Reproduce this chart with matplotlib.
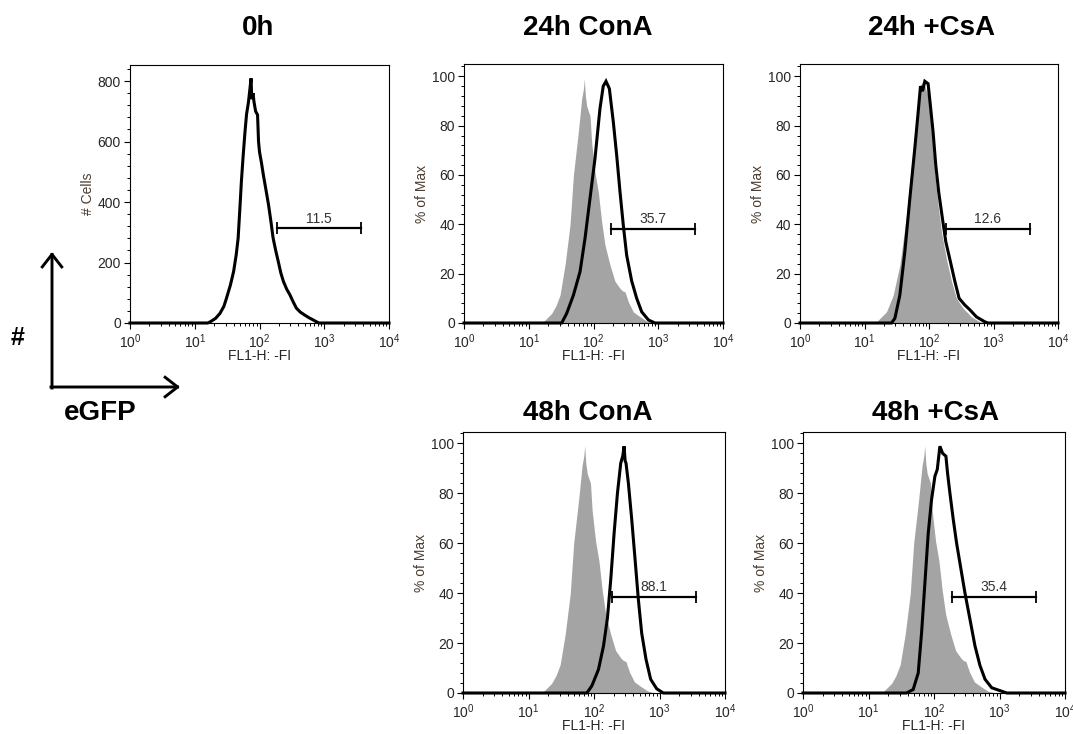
import numpy as np
import matplotlib
matplotlib.use("Agg")
import matplotlib.pyplot as plt
from matplotlib.ticker import MultipleLocator, LogLocator, NullFormatter

plt.rcParams['font.family'] = ['Liberation Sans', 'DejaVu Sans']
plt.rcParams['mathtext.default'] = 'regular'

# ---- histogram data: log10(FL1-H) channel positions and heights ----
# 0h, absolute cell counts
h0_log = [0.0, 1.20, 1.24, 1.32, 1.39, 1.45, 1.49, 1.55, 1.60, 1.64, 1.67, 1.70,
          1.72, 1.75, 1.776, 1.80, 1.83, 1.85, 1.87, 1.88, 1.90, 1.915, 1.94,
          1.97, 1.985, 2.00, 2.03, 2.06, 2.10, 2.14, 2.18, 2.21, 2.25, 2.29,
          2.33, 2.37, 2.42, 2.47, 2.52, 2.57, 2.63, 2.70, 2.76, 2.83, 2.88,
          2.92, 4.0]
h0_cells = [0, 0, 4, 15, 32, 55, 82, 125, 170, 225, 280, 390, 467, 560, 632,
            690, 731, 770, 809, 740, 760, 731, 700, 688, 600, 566, 530, 489,
            440, 390, 330, 281, 240, 203, 165, 137, 112, 93, 70, 49, 36, 26,
            18, 10, 4, 0, 0]

# unstimulated control (grey), % of max
ctrl_log = [1.225, 1.354, 1.42, 1.483, 1.56, 1.637, 1.69, 1.766, 1.818, 1.845,
            1.858, 1.875, 1.895, 1.92, 1.946, 1.972, 2.023, 2.075, 2.126, 2.178,
            2.255, 2.33, 2.41, 2.45, 2.487, 2.54, 2.615, 2.72, 2.82, 2.93]
ctrl_pct = [0.5, 3.9, 7.0, 11.3, 23.5, 39.7, 60, 77.5, 91, 95, 99, 92, 88, 86,
            84, 73, 61, 53, 41, 31.5, 23.5, 17, 14, 13, 12.6, 8.5, 4.5, 2.5,
            0.8, 0]

# control paired with the 24h +CsA sample (grey), % of max
ctrl24_log = [1.187, 1.34, 1.445, 1.548, 1.651, 1.729, 1.806, 1.858, 1.91,
              1.986, 2.038, 2.09, 2.141, 2.193, 2.27, 2.348, 2.425, 2.529,
              2.658, 2.787, 2.89]
ctrl24_pct = [0.5, 4.5, 11.3, 23.5, 43.7, 64, 84, 96, 98, 92, 77.5, 61, 47.8,
              37, 26, 17, 10, 6, 2.5, 0.5, 0]

# 24h ConA
cona24_log = [0.0, 1.509, 1.586, 1.69, 1.792, 1.869, 1.946, 2.023, 2.10, 2.15,
              2.193, 2.245, 2.306, 2.358, 2.41, 2.46, 2.512, 2.59, 2.667,
              2.745, 2.85, 2.95, 4.0]
cona24_pct = [0, 0, 3.9, 11.3, 20.8, 34.3, 50.5, 66.7, 86.9, 96, 98, 95, 81.5,
              68, 53, 39.7, 27.5, 17, 10, 4.5, 1.2, 0, 0]

# 24h +CsA
csa24_log = [0.0, 1.419, 1.471, 1.548, 1.625, 1.703, 1.78, 1.832, 1.868, 1.90,
             1.935, 1.986, 2.022, 2.063, 2.105, 2.151, 2.208, 2.26, 2.322,
             2.40, 2.467, 2.555, 2.632, 2.735, 2.864, 2.915, 4.0]
csa24_pct = [0, 0, 1.9, 11.3, 28.8, 50.5, 70.8, 85.5, 96, 94, 98, 97, 88,
             77.5, 64, 53, 42.4, 33, 26, 17, 10, 7.3, 5.4, 2.5, 0.5, 0, 0]

# 48h ConA
cona48_log = [0.0, 1.89, 1.966, 2.068, 2.145, 2.205, 2.256, 2.307, 2.358,
              2.408, 2.44, 2.459, 2.475, 2.489, 2.525, 2.576, 2.627, 2.677,
              2.728, 2.794, 2.865, 2.957, 3.058, 4.0]
cona48_pct = [0, 0, 2.8, 9.4, 18.8, 30, 45.5, 64, 80, 92, 95, 98.8, 93, 92, 84,
              69.5, 53.5, 37.5, 24, 13.5, 5.5, 1.7, 0, 0]

# 48h +CsA
csa48_log = [0.0, 1.58, 1.682, 1.759, 1.81, 1.861, 1.912, 1.963, 2.014, 2.05,
             2.09, 2.131, 2.182, 2.207, 2.243, 2.294, 2.345, 2.396, 2.473,
             2.549, 2.626, 2.702, 2.779, 2.881, 2.98, 3.11, 4.0]
csa48_pct = [0, 0, 1.4, 8, 24, 44, 64, 77.5, 86.8, 89.5, 98.8, 96, 94.8, 88,
             80, 69.5, 60, 52, 40, 29.5, 18.8, 11, 5.5, 2.1, 1.2, 0, 0]

# marker gate (FL1-H range) and % positive cells in each sample
gate_range = [186, 3630]
titles = ["0h", "24h ConA", "24h +CsA", "48h ConA", "48h +CsA"]
gate_values = [11.5, 35.7, 12.6, 88.1, 35.4]

W, H = 1073, 734
fig = plt.figure(figsize=(W / 100, H / 100), dpi=100)


def rect(left, top, right, bottom):
    return [left / W, 1 - bottom / H, (right - left) / W, (bottom - top) / H]


panels = [
    dict(rect=rect(130, 65, 389, 323), fill=None,
         line=(h0_log, h0_cells), ylim=853, major=200, minor=40,
         ylabel="# Cells", gate_y=313, title_xy=(258, 35)),
    dict(rect=rect(464, 64, 723, 323), fill=(ctrl_log, ctrl_pct),
         line=(cona24_log, cona24_pct), ylim=105, major=20, minor=4,
         ylabel="% of Max", gate_y=38, title_xy=(588, 35)),
    dict(rect=rect(800, 64, 1058, 323), fill=(ctrl24_log, ctrl24_pct),
         line=(csa24_log, csa24_pct), ylim=105, major=20, minor=4,
         ylabel="% of Max", gate_y=38, title_xy=(931, 35)),
    dict(rect=rect(463, 432, 725, 693), fill=(ctrl_log, ctrl_pct),
         line=(cona48_log, cona48_pct), ylim=104.5, major=20, minor=4,
         ylabel="% of Max", gate_y=38.4, title_xy=(588, 420)),
    dict(rect=rect(803, 432, 1065, 693), fill=(ctrl_log, ctrl_pct),
         line=(csa48_log, csa48_pct), ylim=104.5, major=20, minor=4,
         ylabel="% of Max", gate_y=38.4, title_xy=(935, 420)),
]

tick_color = "#262626"
for p, title, gv in zip(panels, titles, gate_values):
    ax = fig.add_axes(p["rect"])
    ax.set_xscale("log")
    ax.set_xlim(1, 1e4)
    ax.set_ylim(0, p["ylim"])

    if p["fill"] is not None:
        fx = 10 ** np.asarray(p["fill"][0])
        ax.fill_between(fx, p["fill"][1], 0, color="#a4a4a4", lw=0, zorder=1)
    lx = 10 ** np.asarray(p["line"][0])
    ax.plot(lx, p["line"][1], color="black", lw=2.2, zorder=3,
            clip_on=False, solid_joinstyle="miter")

    # gate bar with end caps and the % positive label
    ax.plot(gate_range, [p["gate_y"]] * 2, color="black", lw=1.6, zorder=4)
    ax.plot(gate_range, [p["gate_y"]] * 2, ls="none", marker="|",
            ms=9, mew=1.3, color="black", zorder=4)
    gx = np.sqrt(gate_range[0] * gate_range[1])
    ax.annotate(f"{gv}", (gx, p["gate_y"]), xytext=(0, 2),
                textcoords="offset points", ha="center", va="bottom",
                fontsize=10, color="#333333")

    ax.yaxis.set_major_locator(MultipleLocator(p["major"]))
    ax.yaxis.set_minor_locator(MultipleLocator(p["minor"]))
    ax.xaxis.set_major_locator(LogLocator(base=10, numticks=10))
    ax.xaxis.set_minor_locator(LogLocator(base=10, subs=np.arange(2, 10),
                                          numticks=50))
    ax.xaxis.set_minor_formatter(NullFormatter())
    ax.tick_params(which="major", direction="out", length=4, width=0.8,
                   labelsize=10, labelcolor=tick_color, pad=2.5)
    ax.tick_params(which="minor", direction="out", length=2.2, width=0.7)
    for s in ax.spines.values():
        s.set_linewidth(0.8)
        s.set_color("black")

    ax.set_ylabel(p["ylabel"], fontsize=10, color="#4a3c30", va="center")
    ax.yaxis.set_label_coords(-42 / (p["rect"][2] * W), 0.5)
    ax.set_xlabel("FL1-H: -FI", fontsize=10, color=tick_color, va="center")
    ax.xaxis.set_label_coords(0.5, -33 / (p["rect"][3] * H))

    tx, ty = p["title_xy"]
    fig.text(tx / W, 1 - ty / H, title, ha="center", va="baseline",
             fontsize=20, fontweight="bold")

# axis-direction key on the left
corner = (52 / W, 1 - 387 / H)
arrow_kw = dict(arrowstyle="->,head_length=0.45,head_width=0.35",
                lw=2.1, color="black", mutation_scale=20,
                shrinkA=0, shrinkB=0, capstyle="projecting")
fig.add_artist(matplotlib.patches.FancyArrowPatch(
    (corner[0], corner[1] - 1 / H), (52 / W, 1 - 252 / H),
    transform=fig.transFigure, **arrow_kw))
fig.add_artist(matplotlib.patches.FancyArrowPatch(
    (corner[0] - 1 / W, corner[1]), (180 / W, 1 - 387 / H),
    transform=fig.transFigure, **arrow_kw))
fig.text(17.5 / W, 1 - 345 / H, "#", ha="center", va="baseline",
         fontsize=18, fontweight="bold")
fig.text(100 / W, 1 - 420 / H, "eGFP", ha="center", va="baseline",
         fontsize=20, fontweight="bold")

fig.savefig("out.png", dpi=100, facecolor="white")
